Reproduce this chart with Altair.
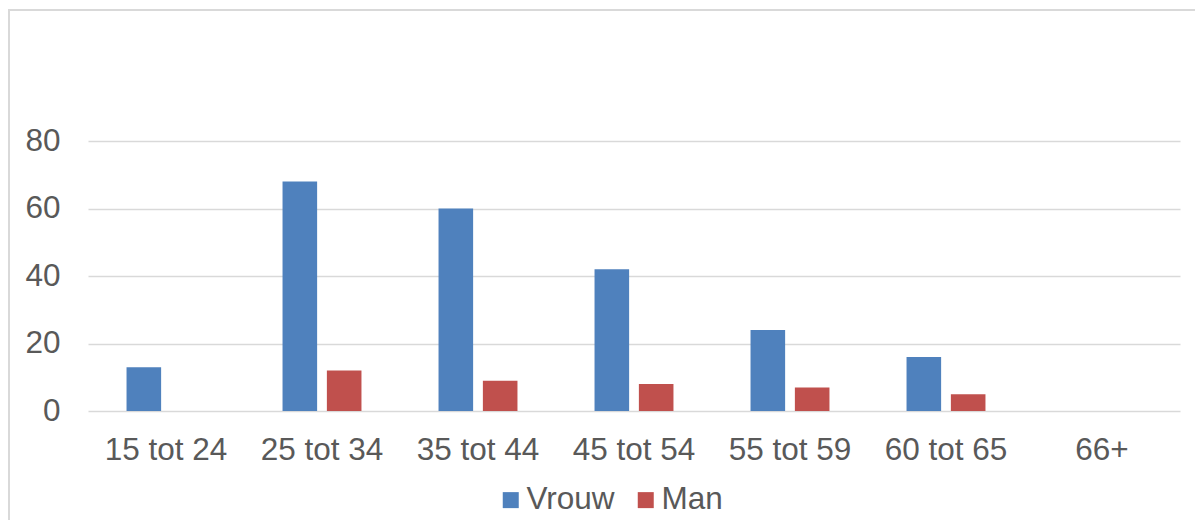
import altair as alt
import pandas as pd

categories = ["15 tot 24", "25 tot 34", "35 tot 44", "45 tot 54", "55 tot 59", "60 tot 65", "66+"]
series_names = ["Vrouw", "Man"]
vrouw = [13, 68, 60, 42, 24, 16, 0]
man = [0, 12, 9, 8, 7, 5, 0]
y_ticks = [0, 20, 40, 60, 80]
colors = ["#4F81BD", "#C0504D"]

rows = []
for c, v, m in zip(categories, vrouw, man):
    rows.append({"cat": c, "serie": "Vrouw", "waarde": v})
    rows.append({"cat": c, "serie": "Man", "waarde": m})
df = pd.DataFrame(rows)

FONT = "Liberation Sans"
TXT = "#595959"
GRID = "#d9d9d9"
FS = 31.5

bars = alt.Chart(df).mark_bar().encode(
    x=alt.X("cat:N", sort=categories, title=None,
            scale=alt.Scale(paddingInner=0.494, paddingOuter=0.247),
            axis=alt.Axis(labelAngle=0, labelFontSize=FS, labelColor=TXT, labelFont=FONT,
                          ticks=False, domain=False, labelPadding=23, grid=False)),
    xOffset=alt.XOffset("serie:N", sort=series_names,
                        scale=alt.Scale(paddingInner=0.22, paddingOuter=0)),
    y=alt.Y("waarde:Q", title=None,
            scale=alt.Scale(domain=[0, 80], nice=False),
            axis=alt.Axis(values=y_ticks, labelFontSize=FS, labelColor=TXT, labelFont=FONT,
                          ticks=False, domain=False, labelPadding=28,
                          grid=True, gridColor=GRID, gridWidth=1.5)),
    color=alt.Color("serie:N", sort=series_names,
                    scale=alt.Scale(domain=series_names, range=colors),
                    legend=alt.Legend(title=None, orient="none", direction="horizontal",
                                      legendX=407, legendY=343,
                                      symbolType="square", symbolSize=256,
                                      symbolStrokeWidth=0,
                                      labelFontSize=FS, labelColor=TXT, labelFont=FONT,
                                      labelOffset=0, columnPadding=15)),
)

frame_top = alt.Chart(alt.Data(values=[{}])).mark_rule(
    stroke=GRID, strokeWidth=2
).encode(
    x=alt.value(-80), x2=alt.value(1300), y=alt.value(-131),
)
frame_left = alt.Chart(alt.Data(values=[{}])).mark_rule(
    stroke=GRID, strokeWidth=2
).encode(
    x=alt.value(-79), y=alt.value(-132), y2=alt.value(500),
)

chart = alt.layer(frame_top, frame_left, bars).properties(
    width=1092, height=270,
    autosize=alt.AutoSizeParams(type="none"),
    padding={"left": 80, "top": 133, "right": 15, "bottom": 109},
).configure_view(stroke=None)

chart.save("out.html", embed_options={"renderer": "svg", "actions": False})
